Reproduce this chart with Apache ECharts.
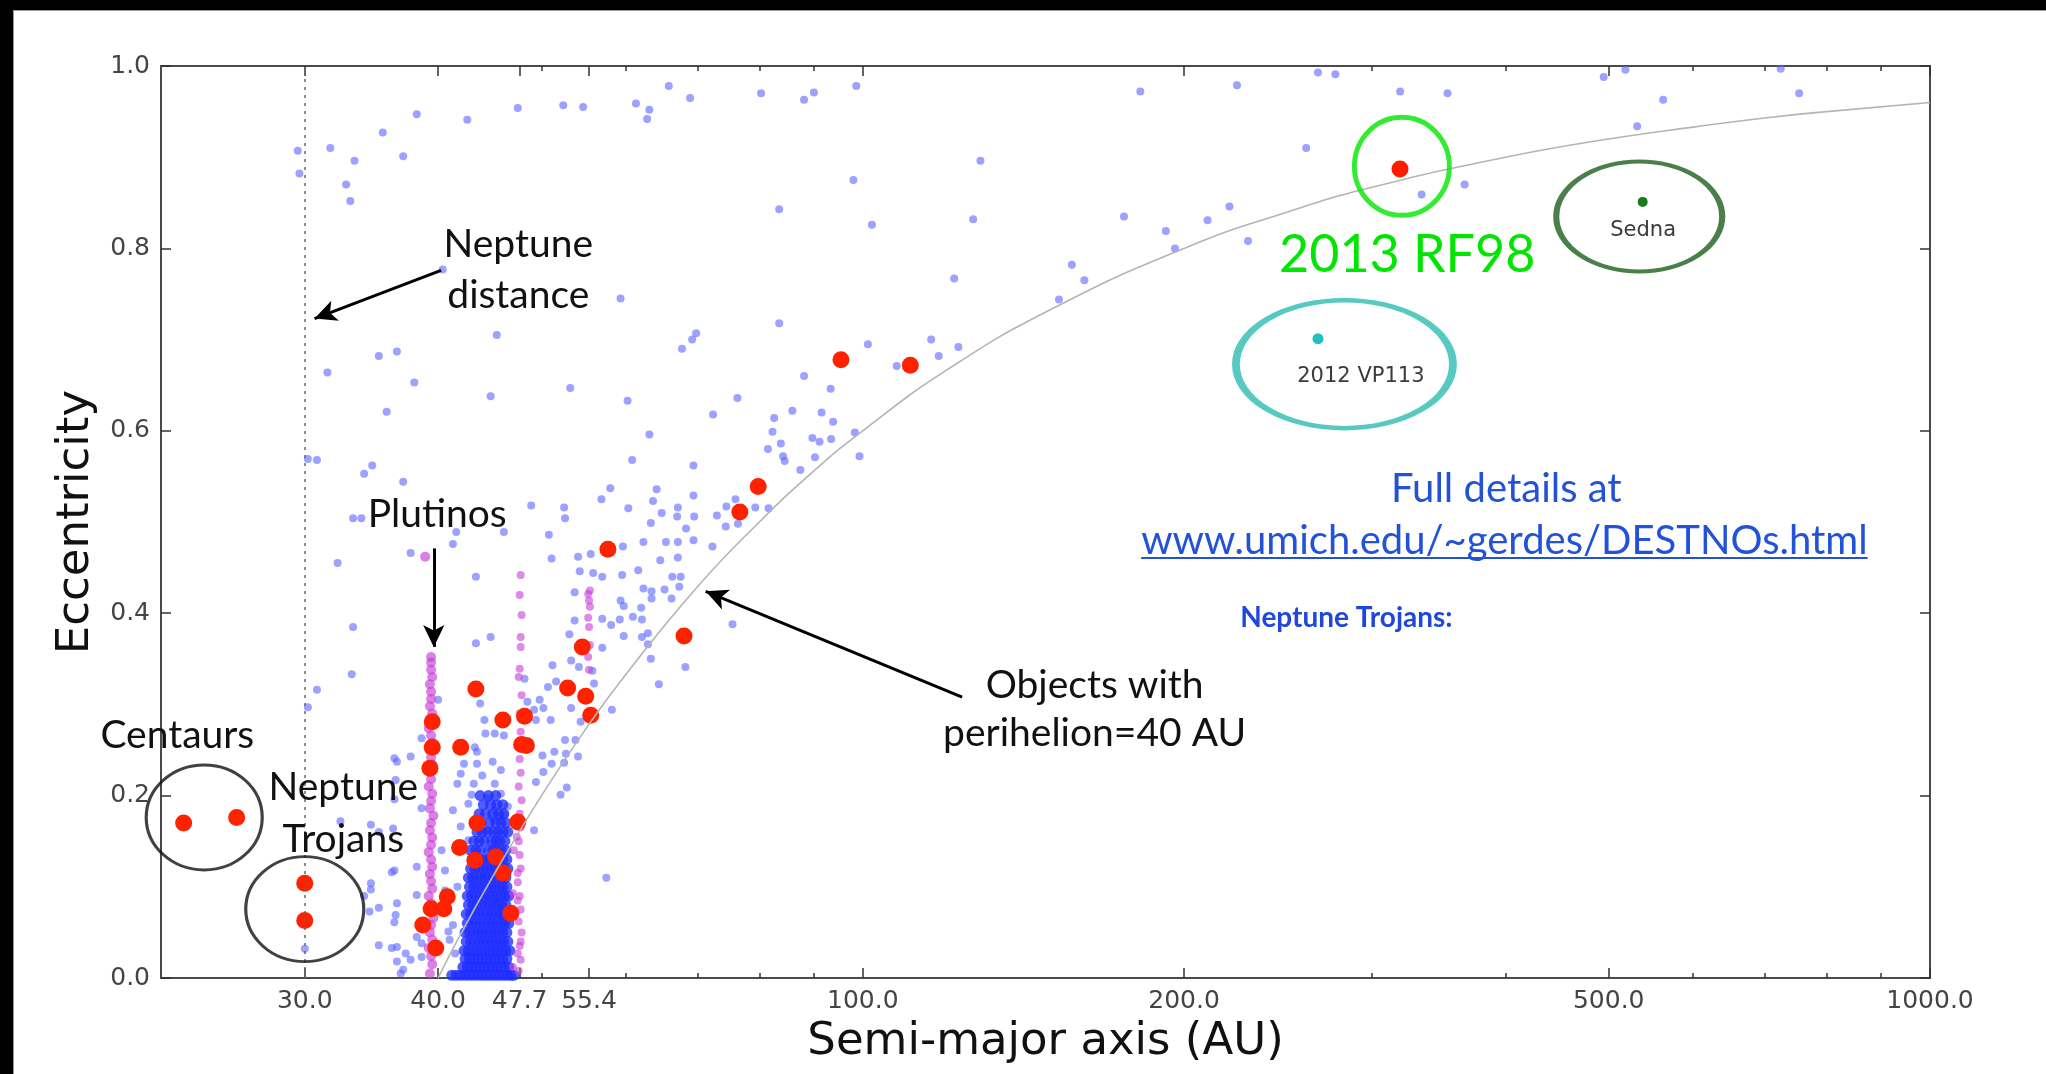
<!DOCTYPE html>
<html>
<head>
<meta charset="utf-8">
<script src="https://cdn.jsdelivr.net/npm/echarts@6/dist/echarts.min.js"></script>
<style>
  html, body { margin: 0; padding: 0; background: #000; }
  #panel { position: absolute; left: 13px; top: 10px; width: 2033px; height: 1064px; background: #fff; border-top: 1px solid #999; border-left: 1px solid #999; box-sizing: border-box; }
  #chart { width: 100%; height: 100%; }
</style>
</head>
<body>
<div id="panel"><div id="chart"></div></div>
<script>
// Semi-major axis tick marks (AU)
const majorTicksAU = [30, 40, 47.7, 55.4, 100, 200, 500, 1000];
const minorTicksAU = [50, 60, 70, 80, 90, 300, 400, 600, 700, 800, 900];
const neptuneDistanceAU = 30;

// Curve of constant perihelion q = 40 AU  [a, e]
const perihelion40A = [40, 42, 45, 50, 55, 60, 70, 80, 90, 100, 120, 150, 200, 250, 300, 400, 500, 600, 700, 800, 1000];
const perihelion40E = [0, 0.048, 0.111, 0.2, 0.273, 0.333, 0.429, 0.5, 0.556, 0.6, 0.667, 0.733, 0.8, 0.84, 0.867, 0.9, 0.92, 0.933, 0.943, 0.95, 0.96];

// Known trans-Neptunian objects [a (AU), e]
const knownObjects = [
  [29.55,0.907],[29.66,0.882],[31.7,0.910],[33.4,0.896],[32.8,0.870],[33.1,0.852],[35.5,0.927],[37.1,0.901],[38.2,0.947],[42.6,0.941],
  [47.5,0.954],[52.4,0.957],[54.7,0.955],[61.3,0.959],[63.1,0.952],[62.8,0.942],[65.8,0.978],[68.9,0.965],[40.4,0.777],[59.3,0.745],
  [45.4,0.705],[69.8,0.707],[69.2,0.700],[67.7,0.690],[35.2,0.682],[36.6,0.687],[31.5,0.664],[38.0,0.653],[44.8,0.638],[53.2,0.647],[60.2,0.633],
  [80.3,0.970],[88.1,0.963],[90.0,0.971],[98.6,0.978],[182,0.972],[128.9,0.896],[98.0,0.875],[83.5,0.843],[102,0.826],[126.9,0.832],
  [175.7,0.835],[192.3,0.819],[196.1,0.800],[157,0.782],[161.3,0.765],[121.8,0.767],[152.7,0.744],[83.5,0.718],[101.1,0.695],[115.9,0.700],
  [117.8,0.682],[122.9,0.692],[107.6,0.671],[88.1,0.660],[93.3,0.646],[76.3,0.636],
  [224.2,0.979],[267,0.993],[260.3,0.910],[220.6,0.846],[210.4,0.831],[229.6,0.808],[72.4,0.618],[82.6,0.614],[85.9,0.622],[91.5,0.620],
  [93.8,0.610],[82.3,0.599],[83.8,0.586],[81.5,0.580],[84.2,0.572],[84.5,0.567],[87.4,0.557],[90.2,0.571],[89.7,0.592],[91.1,0.588],
  [93.4,0.591],[98.3,0.598],[99.3,0.572],[76.0,0.525],[74.5,0.517],[79.3,0.516],[81.6,0.515],[73.0,0.507],
  [277.2,0.991],[318.8,0.972],[353.1,0.970],[494.6,0.988],[518.3,0.996],[562.3,0.963],[724.6,0.997],[754,0.970],[531.6,0.934],[366.4,0.870],[333.9,0.859],
  [63.1,0.596],[60.8,0.568],[69.4,0.562],[58.0,0.537],[56.9,0.525],[52.5,0.516],[52.6,0.504],[64.1,0.536],[63.6,0.523],[64.8,0.510],
  [60.3,0.515],[67.1,0.516],[67.0,0.506],[69.4,0.529],[69.5,0.506],[63.3,0.499],[68.3,0.493],[74.4,0.495],[76.4,0.498],[72.3,0.473],
  [69.4,0.480],[67.1,0.478],[65.4,0.478],[62.3,0.478],[59.6,0.473],[55.6,0.465],[54.1,0.462],[64.6,0.458],[67.1,0.461],[55.9,0.444],
  [54.3,0.446],[57.0,0.440],[59.5,0.442],[61.6,0.447],[66.3,0.440],[67.5,0.440],[67.3,0.429],[62.3,0.427],[63.4,0.424],[65.2,0.426],
  [66.2,0.416],[63.4,0.416],[62.0,0.406],[59.3,0.414],[59.7,0.408],[53.7,0.423],[60.9,0.396],[62.1,0.393],[57.0,0.394],[58.1,0.387],
  [59.2,0.393],[53.7,0.392],[53.1,0.377],[59.7,0.375],[62.1,0.374],[62.9,0.378],[62.9,0.366],[57.0,0.362],[63.3,0.350],[55.8,0.337],
  [53.3,0.348],[56.0,0.323],[54.2,0.341],[68.2,0.341],[64.4,0.322],[58.2,0.294],[53.3,0.296],[54.4,0.281],[75.5,0.388],[52.6,0.261],
  [54.1,0.243],[52.5,0.236],[52.8,0.209],
  [48.9,0.518],[46.1,0.489],[41.3,0.476],[41.6,0.489],[37.7,0.466],[50.8,0.486],[51.1,0.460],[43.4,0.440],[44.8,0.374],[43.4,0.367],
  [51.2,0.343],[51.6,0.325],[50.7,0.319],[48.2,0.328],[40.0,0.305],[43.8,0.301],[48.5,0.303],[49.8,0.305],[50.2,0.296],[49.2,0.294],
  [51.0,0.283],[44.2,0.283],[44.3,0.268],[45.2,0.268],[46.1,0.266],[38.6,0.263],[43.3,0.253],[49.4,0.283],[53.8,0.261],[51.4,0.248],
  [36.4,0.241],[37.7,0.243],[50.1,0.244],
  [35.8,0.621],[34.7,0.562],[34.1,0.553],[37.1,0.544],[30.2,0.569],[30.8,0.568],[33.3,0.504],[33.9,0.504],[32.2,0.455],[33.3,0.385],
  [33.2,0.333],[30.8,0.316],[30.2,0.297],[36.6,0.237],[36.5,0.217],[32.4,0.172],[36.3,0.164],[36.2,0.116],[36.6,0.082],[34.6,0.097],
  [35.2,0.077],[34.1,0.090],[30.0,0.032],[36.4,0.061],[36.6,0.034],[35.2,0.036],[36.9,0.005],
  [42.3,0.235],[43.5,0.248],[43.5,0.235],[45.0,0.237],[45.8,0.228],[50.2,0.226],[51.1,0.235],[52.7,0.246],[41.7,0.213],[43.2,0.213],
  [45.2,0.213],[42.0,0.224],[44.0,0.222],[52.1,0.201],[49.4,0.215],[36.4,0.196],[38.6,0.186],[41.3,0.184],[42.7,0.191],[44.5,0.197],
  [43.0,0.201],[45.8,0.202],[46.5,0.188],[45.2,0.184],[45.0,0.175],[45.7,0.177],[46.2,0.179],[49.2,0.162],[34.6,0.168],[35.2,0.160],
  [36.4,0.118],[38.2,0.122],[40.3,0.140],[40.6,0.118],[42.0,0.166],[44.5,0.162],[42.7,0.151],[34.6,0.104],[36.5,0.069],[38.2,0.091],
  [40.6,0.096],[41.7,0.100],[34.5,0.073],[36.2,0.033],[38.2,0.045],[38.6,0.038],[37.3,0.027],[37.7,0.020],[38.6,0.023],[36.6,0.018],
  [40.9,0.051],[41.3,0.058],[41.0,0.042],[41.5,0.027],[37.1,0.009],[57.5,0.110]
];

// Dense low-eccentricity classical belt [a, e]
const classicalBelt = [
  [41.2,0.003],[41.6,0.003],[42.0,0.003],[42.4,0.003],[42.8,0.003],[43.2,0.003],[43.6,0.003],[44.0,0.003],[44.4,0.003],[44.8,0.003],[45.2,0.003],[45.6,0.003],[46.0,0.003],[46.4,0.003],[46.8,0.003],[47.1,0.003],
  [42.2,0.012],[42.6,0.012],[43.0,0.012],[43.4,0.012],[43.8,0.012],[44.2,0.012],[44.6,0.012],[45.0,0.012],[45.4,0.012],[45.8,0.012],[46.2,0.012],[46.6,0.012],
  [42.4,0.021],[42.8,0.021],[43.2,0.021],[43.6,0.021],[44.0,0.021],[44.4,0.021],[44.8,0.021],[45.2,0.021],[45.6,0.021],[46.0,0.021],[46.4,0.021],
  [42.3,0.030],[42.7,0.030],[43.1,0.030],[43.5,0.030],[43.9,0.030],[44.3,0.030],[44.7,0.030],[45.1,0.030],[45.5,0.030],[45.9,0.030],[46.3,0.030],[46.7,0.030],
  [42.5,0.040],[42.9,0.040],[43.3,0.040],[43.7,0.040],[44.1,0.040],[44.5,0.040],[44.9,0.040],[45.3,0.040],[45.7,0.040],[46.1,0.040],[46.5,0.040],
  [42.4,0.050],[42.8,0.050],[43.2,0.050],[43.6,0.050],[44.0,0.050],[44.4,0.050],[44.8,0.050],[45.2,0.050],[45.6,0.050],[46.0,0.050],[46.4,0.050],
  [42.6,0.060],[43.0,0.060],[43.4,0.060],[43.8,0.060],[44.2,0.060],[44.6,0.060],[45.0,0.060],[45.4,0.060],[45.8,0.060],[46.2,0.060],[46.6,0.060],
  [42.5,0.070],[42.9,0.070],[43.3,0.070],[43.7,0.070],[44.1,0.070],[44.5,0.070],[44.9,0.070],[45.3,0.070],[45.7,0.070],[46.1,0.070],[46.5,0.070],
  [42.7,0.080],[43.1,0.080],[43.5,0.080],[43.9,0.080],[44.3,0.080],[44.7,0.080],[45.1,0.080],[45.5,0.080],[45.9,0.080],[46.3,0.080],
  [42.6,0.090],[43.0,0.090],[43.4,0.090],[43.8,0.090],[44.2,0.090],[44.6,0.090],[45.0,0.090],[45.4,0.090],[45.8,0.090],[46.2,0.090],[46.6,0.090],
  [42.8,0.100],[43.2,0.100],[43.6,0.100],[44.0,0.100],[44.4,0.100],[44.8,0.100],[45.2,0.100],[45.6,0.100],[46.0,0.100],[46.4,0.100],
  [42.7,0.110],[43.1,0.110],[43.5,0.110],[43.9,0.110],[44.3,0.110],[44.7,0.110],[45.1,0.110],[45.5,0.110],[45.9,0.110],[46.3,0.110],
  [42.9,0.120],[43.3,0.120],[43.7,0.120],[44.1,0.120],[44.5,0.120],[44.9,0.120],[45.3,0.120],[45.7,0.120],[46.1,0.120],[46.5,0.120],
  [43.1,0.130],[43.6,0.130],[44.0,0.130],[44.4,0.130],[44.8,0.130],[45.2,0.130],[45.6,0.130],[46.0,0.130],[46.4,0.130],
  [42.9,0.140],[43.4,0.140],[43.8,0.140],[44.6,0.140],[45.0,0.140],[45.4,0.140],[45.8,0.140],[46.3,0.140],
  [43.2,0.150],[43.7,0.150],[44.2,0.150],[44.9,0.150],[45.3,0.150],[45.7,0.150],[46.2,0.150],
  [43.5,0.160],[44.0,0.160],[44.5,0.160],[45.1,0.160],[45.5,0.160],[46.0,0.160],[46.5,0.160],
  [43.3,0.170],[43.9,0.170],[44.7,0.170],[45.3,0.170],[45.8,0.170],[46.3,0.170],
  [43.7,0.180],[44.3,0.180],[45.0,0.180],[45.6,0.180],[46.1,0.180],
  [44.1,0.190],[44.8,0.190],[45.4,0.190],[46.0,0.190],
  [43.8,0.200],[44.6,0.200],[45.3,0.200]
];

// Resonant populations [a, e]
const plutinos = [
  [39.3,0.005],[39.5,0.015],[39.4,0.024],[39.2,0.033],[39.5,0.042],[39.3,0.050],[39.4,0.058],[39.6,0.066],[39.3,0.074],[39.4,0.082],
  [39.2,0.090],[39.5,0.098],[39.4,0.106],[39.3,0.114],[39.5,0.122],[39.4,0.130],[39.2,0.138],[39.4,0.146],[39.5,0.154],[39.3,0.162],
  [39.4,0.170],[39.6,0.178],[39.3,0.186],[39.4,0.194],[39.5,0.202],[39.2,0.210],[39.4,0.218],[39.3,0.226],[39.5,0.234],[39.4,0.242],
  [39.3,0.250],[39.5,0.258],[39.4,0.266],[39.2,0.274],[39.4,0.282],[39.5,0.290],[39.3,0.298],[39.4,0.306],[39.4,0.314],[39.3,0.322],
  [39.5,0.330],[39.4,0.338],[39.4,0.346],[39.4,0.352],[38.9,0.462]
];
const twoToOneResonant = [
  [47.6,0.008],[47.0,0.012],[47.8,0.020],[47.5,0.027],[47.7,0.035],[47.8,0.040],[47.9,0.050],[47.6,0.062],[47.8,0.075],[47.5,0.085],
  [47.7,0.090],[47.0,0.093],[47.5,0.105],[47.5,0.115],[47.8,0.120],[47.7,0.135],[47.1,0.140],[47.6,0.150],[47.4,0.155],[47.8,0.165],
  [47.7,0.180],[47.9,0.195],[47.6,0.210],[47.8,0.225],[47.7,0.240],[47.5,0.255],[47.8,0.270],[47.7,0.290],[47.9,0.310],[47.6,0.330],
  [47.7,0.339],[47.8,0.363],[47.8,0.374],[47.9,0.398],[47.7,0.420],[47.8,0.442]
];
const fiveToTwoResonant = [
  [55.4,0.338],[55.3,0.352],[55.5,0.365],[55.4,0.385],[55.3,0.395],[55.5,0.407],[55.4,0.414],[55.3,0.421],[55.5,0.425]
];

// DES discoveries [a, e]
const desDiscoveries = [
  [23.1,0.170],[25.9,0.176],[30.0,0.104],[30.0,0.063],
  [39.5,0.253],[39.3,0.230],[39.5,0.281],[42.0,0.253],[43.4,0.317],[46.0,0.283],[48.2,0.287],[48.4,0.255],[47.9,0.256],
  [52.9,0.318],[55.0,0.309],[55.6,0.288],[54.6,0.363],[57.7,0.470],[68.0,0.375],[76.7,0.511],[79.8,0.539],[95.4,0.678],[110.8,0.672],
  [43.5,0.170],[47.5,0.171],[41.9,0.143],[43.3,0.129],[45.3,0.133],[46.0,0.115],[40.8,0.089],[39.4,0.076],[40.5,0.076],
  [46.8,0.071],[38.7,0.058],[39.8,0.033]
];
const rf98 = [[318.7, 0.887]];
const vp113 = [[267, 0.701]];
const sedna = [[538, 0.851]];

// Highlight rings: centre [a, e]
const ringCentaurs = [24.15, 0.176];
const ringTrojans = [30.0, 0.0756];
const ringRF98 = [320, 0.890];
const ringSedna = [534, 0.835];
const ringVP113 = [282.7, 0.673];

// Arrow endpoints [from, to] in [a, e]
const arrowNeptune = [[40.26, 0.776], [30.64, 0.723]];
const arrowPlutinos = [[39.63, 0.471], [39.63, 0.363]];
const arrowPerihelion = [[123.9, 0.308], [71.25, 0.424]];

const chart = echarts.init(document.getElementById('chart'));

const annoFont = 'Lato';
const axisColor = '#4a4a4a';

function xAxisCfg(position, ticks, len, withLine, withLabel) {
  return {
    type: 'log', logBase: 10, min: 22, max: 1000, position: position,
    axisLine: { show: withLine, onZero: false, lineStyle: { color: axisColor, width: 2 } },
    axisTick: { show: true, inside: true, length: len, customValues: ticks, lineStyle: { color: '#333', width: 1.5 } },
    axisLabel: withLabel ? {
      show: true, customValues: ticks, formatter: v => Number(v).toFixed(1),
      fontFamily: 'DejaVu Sans', fontSize: 25, color: '#444', margin: 11
    } : { show: false },
    splitLine: { show: false }, minorTick: { show: false }
  };
}

const xAxes = [
  Object.assign(xAxisCfg('bottom', majorTicksAU, 10, true, true), {
    name: 'Semi-major axis (AU)', nameLocation: 'middle', nameGap: 42,
    nameTextStyle: { fontFamily: 'DejaVu Sans', fontSize: 45, color: '#111' }
  }),
  xAxisCfg('bottom', minorTicksAU, 5, false, false),
  xAxisCfg('top', majorTicksAU, 10, true, false),
  xAxisCfg('top', minorTicksAU, 5, false, false)
];

const yAxes = [
  {
    type: 'value', min: 0, max: 1, interval: 0.2, position: 'left',
    axisLine: { show: true, onZero: false, lineStyle: { color: axisColor, width: 2 } },
    axisTick: { inside: true, length: 10, lineStyle: { color: '#333', width: 1.5 } },
    axisLabel: { formatter: v => v.toFixed(1), fontFamily: 'DejaVu Sans', fontSize: 25, color: '#444', margin: 11 },
    splitLine: { show: false },
    name: 'Eccentricity', nameLocation: 'middle', nameGap: 62, nameRotate: 90,
    nameTextStyle: { fontFamily: 'DejaVu Sans', fontSize: 45, color: '#111' }
  },
  {
    type: 'value', min: 0, max: 1, interval: 0.2, position: 'right',
    axisLine: { show: true, onZero: false, lineStyle: { color: axisColor, width: 2 } },
    axisTick: { inside: true, length: 10, lineStyle: { color: '#333', width: 1.5 } },
    axisLabel: { show: false }, splitLine: { show: false }
  }
];

function scatter(name, data, color, size, z) {
  return { name, type: 'scatter', data, symbolSize: size, itemStyle: { color, opacity: 1 }, z, silent: true };
}

function ring(center, w, h, color, width) {
  return { value: center, symbolSize: [w, h], itemStyle: { color: 'rgba(0,0,0,0)', borderColor: color, borderWidth: width } };
}

function arrow(pair) {
  return [
    { coord: pair[0], symbol: 'none' },
    { coord: pair[1], symbol: 'arrow', symbolSize: [16, 22] }
  ];
}

const perihelionCurve = perihelion40A.map((a, i) => [a, perihelion40E[i]]);

chart.setOption({
  animation: false,
  backgroundColor: '#fff',
  grid: { left: 147, right: 116, top: 55, bottom: 96, containLabel: false },
  xAxis: xAxes,
  yAxis: yAxes,
  series: [
    scatter('known', knownObjects, 'rgba(90,100,255,0.6)', 8, 2),
    scatter('classical', classicalBelt, 'rgba(30,45,255,0.78)', 11, 2),
    scatter('plutinos', plutinos, 'rgba(200,60,215,0.65)', 10, 3),
    scatter('twoToOne', twoToOneResonant, 'rgba(200,60,215,0.6)', 8, 3),
    scatter('fiveToTwo', fiveToTwoResonant, 'rgba(200,60,215,0.6)', 8, 3),
    scatter('des', desDiscoveries, '#ff2200', 17, 4),
    scatter('rf98', rf98, '#ff1a00', 17, 4),
    scatter('vp113', vp113, '#20c0c0', 11, 4),
    scatter('sedna', sedna, '#1b7a1b', 10, 4),
    {
      name: 'perihelion', type: 'line', data: perihelionCurve, smooth: true, showSymbol: false,
      lineStyle: { color: '#b4b4b4', width: 1.6 }, z: 5, silent: true,
      markLine: {
        silent: true, animation: false, symbol: ['none', 'none'], label: { show: false },
        lineStyle: { color: '#000', width: 3, type: 'solid' },
        emphasis: { disabled: true },
        data: [
          { xAxis: neptuneDistanceAU, lineStyle: { color: '#666', width: 1.5, type: [3, 5] } },
          arrow(arrowNeptune),
          arrow(arrowPlutinos),
          arrow(arrowPerihelion)
        ]
      }
    },
    {
      name: 'rings', type: 'scatter', z: 6, silent: true,
      data: [
        ring(ringCentaurs, 116, 105, '#111', 3),
        ring(ringTrojans, 118, 105, '#111', 3),
        ring(ringRF98, 95, 98, '#00e600', 5),
        ring(ringSedna, 166, 110, '#1d5f1d', 5),
        ring(ringVP113, 217, 128, '#2cbcb2', 6)
      ]
    }
  ]
});

// Text annotations anchored in data space
const annotationLayout = [
  { text: 'Neptune\ndistance', at: [47.56, 0.776], size: 39, lh: 51, color: '#111' },
  { text: 'Plutinos', at: [39.92, 0.508], size: 39, lh: 50, color: '#111' },
  { text: 'Centaurs', at: [22.79, 0.266], size: 39, lh: 50, color: '#111' },
  { text: 'Neptune\nTrojans', at: [32.6, 0.180], size: 39, lh: 52, color: '#111' },
  { text: 'Objects with\nperihelion=40 AU', at: [164.9, 0.295], size: 39, lh: 48, color: '#111' },
  { text: '2013 RF98', at: [323.7, 0.793], size: 52, lh: 60, color: '#00e600' },
  { text: 'Sedna', at: [538.5, 0.820], size: 21, lh: 24, color: '#3a3a3a', family: 'DejaVu Sans' },
  { text: '2012 VP113', at: [292.9, 0.660], size: 21, lh: 24, color: '#3a3a3a', family: 'DejaVu Sans' },
  { text: 'Full details at', at: [400.9, 0.536], size: 40, lh: 46, color: '#2152d8' },
  { text: 'www.umich.edu/~gerdes/DESTNOs.html', at: [399.2, 0.479], size: 40, lh: 46, color: '#2152d8', underline: true },
  { text: 'Neptune Trojans:', at: [283.9, 0.3945], size: 28, lh: 32, color: '#1f47dc', weight: 'bold' }
];

const measureCtx = document.createElement('canvas').getContext('2d');
const graphics = [];
annotationLayout.forEach(n => {
  const p = chart.convertToPixel({ xAxisIndex: 0, yAxisIndex: 0 }, n.at);
  const family = n.family || annoFont;
  const weight = n.weight || 'normal';
  graphics.push({
    type: 'text', x: p[0], y: p[1], z: 100, silent: true,
    style: {
      text: n.text, fill: n.color, fontFamily: family, fontSize: n.size, fontWeight: weight,
      lineHeight: n.lh, align: 'center', verticalAlign: 'middle'
    }
  });
  if (n.underline) {
    measureCtx.font = weight + ' ' + n.size + 'px ' + family;
    const w = measureCtx.measureText(n.text).width;
    const y = p[1] + n.size * 0.42;
    graphics.push({
      type: 'line', z: 100, silent: true,
      shape: { x1: p[0] - w / 2, y1: y, x2: p[0] + w / 2, y2: y },
      style: { stroke: n.color, lineWidth: 2 }
    });
  }
});
chart.setOption({ graphic: graphics });
</script>
</body>
</html>
